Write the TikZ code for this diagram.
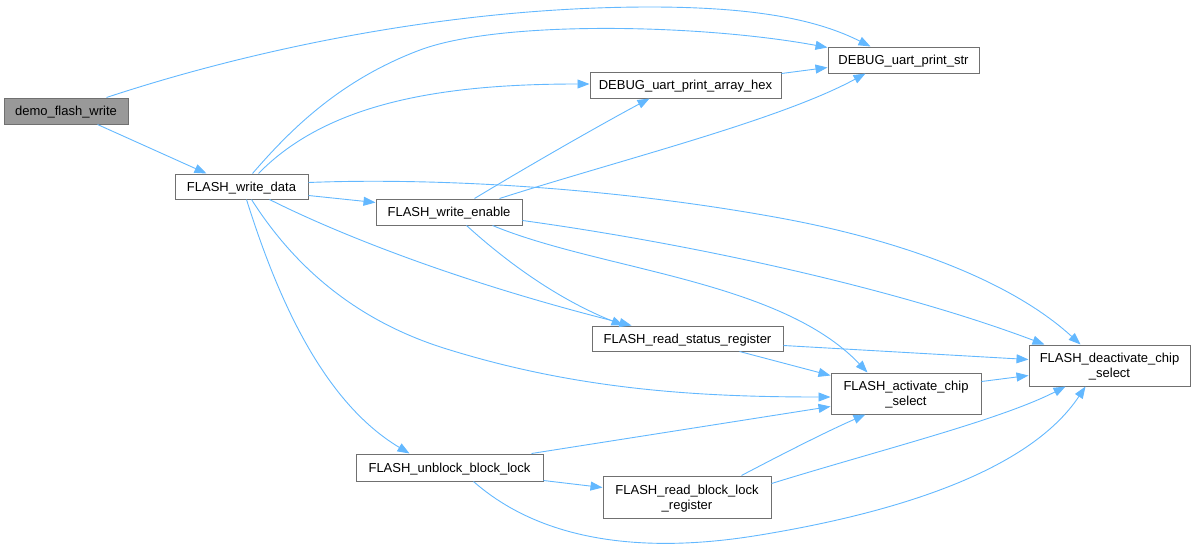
\documentclass[tikz,border=0pt]{standalone}
\usepackage{fontspec}
\setmainfont{Liberation Sans}
\usetikzlibrary{arrows.meta,calc}
\definecolor{edgecol}{HTML}{63B8FF}
\definecolor{boxcol}{HTML}{707070}
\definecolor{rootfill}{HTML}{999999}
\tikzset{
  box/.style={draw=boxcol, line width=1pt, fill=white, inner sep=0pt, align=center,
    text depth=0pt, font=\fontsize{13}{15}\selectfont},
  rootbox/.style={box, fill=rootfill},
  edge/.style={draw=edgecol, line width=0.9pt, -{Triangle[length=12pt,width=9pt]}},
}
\begin{document}
\begin{tikzpicture}[x=1pt,y=-1pt]
\useasboundingbox (0,0) rectangle (1196,546);
% nodes
\node[rootbox, minimum width=124pt, minimum height=26pt] (dfw) at (66,111) {demo\_flash\_write};
\node[box, minimum width=133pt, minimum height=25pt] (fwd) at (241.5,186.5) {FLASH\_write\_data};
\node[box, minimum width=146pt, minimum height=26pt] (fwe) at (449,212) {FLASH\_write\_enable};
\node[box, minimum width=191pt, minimum height=26pt] (dah) at (685.5,85) {DEBUG\_uart\_print\_array\_hex};
\node[box, minimum width=151pt, minimum height=26pt] (dps) at (903.5,60) {DEBUG\_uart\_print\_str};
\node[box, minimum width=191pt, minimum height=25pt] (frs) at (687.5,338.5) {FLASH\_read\_status\_register};
\node[box, minimum width=150pt, minimum height=41pt] (fac) at (906,393.5) {FLASH\_activate\_chip\\\_select};
\node[box, minimum width=161pt, minimum height=41pt] (fdc) at (1109.5,365.5) {FLASH\_deactivate\_chip\\\_select};
\node[box, minimum width=187pt, minimum height=27pt] (fub) at (449.5,467.5) {FLASH\_unblock\_block\_lock};
\node[box, minimum width=168pt, minimum height=42pt] (frb) at (687,497) {FLASH\_read\_block\_lock\\\_register};
% edges
\draw[edge] ($(dfw.north west)+(103,0)$) .. controls (250,50) and (450,7) .. (650,7) .. controls (760,7) and (820,21) .. ($(dps.north west)+(43,0)$);
\draw[edge] ($(dfw.south west)+(94,0)$) -- ($(fwd.north west)+(32,0)$);
\draw[edge] ($(fwd.north west)+(78,0)$) .. controls (290,130) and (340,80) .. (420,50) .. controls (500,20) and (700,24) .. ($(dps.north west)+(0,1)$);
\draw[edge] ($(fwd.north west)+(84,0)$) .. controls (330,100) and (450,84) .. ($(dah.west)+(0,-1)$);
\draw[edge] ($(fwd.south east)+(0,-4)$) -- ($(fwe.north west)+(0,4)$);
\draw[edge] ($(fwd.north east)+(0,9)$) .. controls (420,178) and (600,185) .. (780,218) .. controls (900,240) and (1010,280) .. ($(fdc.north west)+(52,0)$);
\draw[edge] ($(fwd.south west)+(95,0)$) .. controls (330,230) and (450,280) .. ($(frs.north west)+(40,0)$);
\draw[edge] ($(fwd.south west)+(77,0)$) .. controls (290,260) and (350,320) .. (450,350) .. controls (580,390) and (700,397) .. ($(fac.west)+(0,3.5)$);
\draw[edge] ($(fwd.south west)+(72,0)$) .. controls (275,290) and (320,400) .. ($(fub.north west)+(54,0)$);
\draw[edge] ($(fwe.north west)+(99,0)$) .. controls (530,165) and (600,125) .. ($(dah.south west)+(60,0)$);
\draw[edge] ($(fwe.north west)+(124,0)$) .. controls (620,160) and (780,120) .. ($(dps.south west)+(38,0)$);
\draw[edge] ($(fwe.south east)+(0,-5)$) .. controls (700,245) and (900,290) .. ($(fdc.north west)+(16,0)$);
\draw[edge] ($(fwe.south west)+(117,0)$) .. controls (600,270) and (780,280) .. ($(fac.north west)+(37,0)$);
\draw[edge] ($(fwe.south west)+(91,0)$) .. controls (510,265) and (560,300) .. ($(frs.north west)+(32,0)$);
\draw[edge] ($(dah.north east)+(0,2)$) -- ($(dps.north west)+(0,21)$);
\draw[edge] ($(frs.south west)+(148,0)$) -- ($(fac.north west)+(0,3)$);
\draw[edge] ($(frs.south east)+(0,-6)$) -- ($(fdc.north west)+(0,15)$);
\draw[edge] ($(fac.north east)+(0,9)$) -- ($(fdc.north west)+(0,31)$);
\draw[edge] ($(fub.north west)+(176,0)$) -- ($(fac.north west)+(0,34)$);
\draw[edge] ($(fub.south east)+(0,-1)$) -- ($(frb.north west)+(0,12)$);
\draw[edge] ($(fub.south west)+(118,0)$) .. controls (540,540) and (640,555) .. (760,535) .. controls (900,512) and (1030,470) .. ($(fdc.south west)+(57,0)$);
\draw[edge] ($(frb.north west)+(139,0)$) .. controls (790,450) and (830,430) .. ($(fac.south west)+(35,0)$);
\draw[edge] ($(frb.north east)+(0,8)$) .. controls (880,450) and (1000,420) .. ($(fdc.south west)+(37,0)$);
\end{tikzpicture}
\end{document}
